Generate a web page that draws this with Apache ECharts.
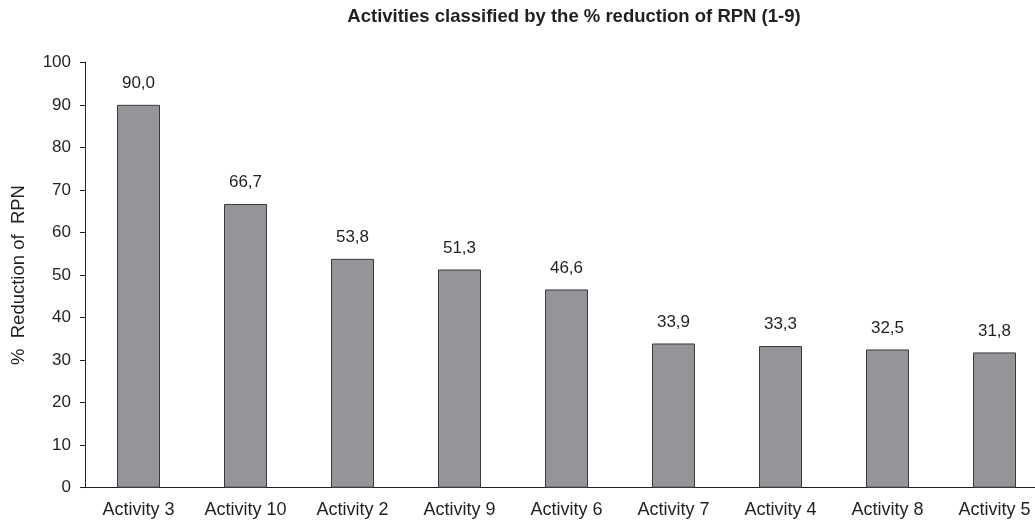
<!DOCTYPE html>
<html><head><meta charset="utf-8">
<script src="https://cdn.jsdelivr.net/npm/echarts@6/dist/echarts.min.js"></script>
<style>html,body{margin:0;padding:0;background:#fff;overflow:hidden;width:1035px;height:521px;}#c{width:1048px;height:521px;}</style>
</head><body><div id="c"></div>
<script>
const categories = ['Activity 3','Activity 10','Activity 2','Activity 9','Activity 6','Activity 7','Activity 4','Activity 8','Activity 5'];
const values = [90.0, 66.7, 53.8, 51.3, 46.6, 33.9, 33.3, 32.5, 31.8];
const yTicks = {min: 0, max: 100, interval: 10};
const FONT = '"Liberation Sans", Arial, sans-serif';
const TXT = '#231f20';
const chart = echarts.init(document.getElementById('c'), null, {renderer: 'canvas'});
chart.setOption({
  animation: false,
  title: {
    text: 'Activities classified by the % reduction of RPN (1-9)',
    left: 569, top: 2, textAlign: 'center',
    textStyle: {fontFamily: FONT, fontSize: 18.5, fontWeight: 'bold', color: TXT}
  },
  grid: {left: 85, right: 0, top: 62.3, bottom: 33.3, containLabel: false},
  xAxis: {
    type: 'category', data: categories,
    axisLine: {lineStyle: {color: TXT, width: 1}},
    axisTick: {show: false},
    axisLabel: {fontFamily: FONT, fontSize: 18, color: TXT, margin: 13, interval: 0}
  },
  yAxis: {
    type: 'value', min: yTicks.min, max: yTicks.max, interval: yTicks.interval,
    name: '%  Reduction of  RPN', nameLocation: 'middle', nameGap: 57, nameRotate: 90,
    nameTextStyle: {fontFamily: FONT, fontSize: 18.5, color: TXT},
    axisLine: {show: true, lineStyle: {color: TXT, width: 1}},
    axisTick: {show: true, length: 5, lineStyle: {color: TXT}},
    splitLine: {show: false},
    axisLabel: {fontFamily: FONT, fontSize: 17, color: TXT, margin: 14}
  },
  series: [{
    type: 'bar', data: values, barWidth: 43,
    itemStyle: {color: '#939598', borderColor: '#3a3a3c', borderWidth: 1},
    label: {
      show: true, position: 'top', distance: 13,
      fontFamily: FONT, fontSize: 17, color: TXT,
      formatter: p => p.value.toFixed(1).replace('.', ',')
    }
  }]
});
</script></body></html>
